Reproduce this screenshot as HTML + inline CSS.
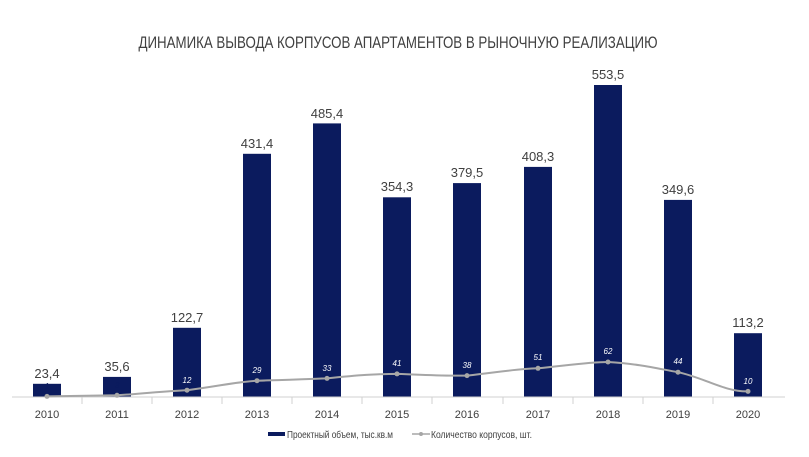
<!DOCTYPE html>
<html><head><meta charset="utf-8"><style>
body{margin:0;background:#fff;}
svg{display:block;font-family:"Liberation Sans",sans-serif;}
</style></head><body>
<svg width="809" height="457" viewBox="0 0 809 457">
<text x="398" y="48" text-anchor="middle" font-size="17" fill="#404040" textLength="519" lengthAdjust="spacingAndGlyphs">ДИНАМИКА ВЫВОДА КОРПУСОВ АПАРТАМЕНТОВ В РЫНОЧНУЮ РЕАЛИЗАЦИЮ</text>
<g fill="#0b1b5e">
<rect x="33" y="383.8" width="28" height="13.2"/>
<rect x="103" y="376.9" width="28" height="20.1"/>
<rect x="173" y="327.8" width="28" height="69.2"/>
<rect x="243" y="153.8" width="28" height="243.2"/>
<rect x="313" y="123.4" width="28" height="273.6"/>
<rect x="383" y="197.3" width="28" height="199.7"/>
<rect x="453" y="183.1" width="28" height="213.9"/>
<rect x="524" y="166.9" width="28" height="230.1"/>
<rect x="594" y="85" width="28" height="312"/>
<rect x="664" y="199.9" width="28" height="197.1"/>
<rect x="734" y="333.2" width="28" height="63.8"/>
</g>
<line x1="12" y1="397" x2="785" y2="397" stroke="#d0d0d0"/>
<g stroke="#d0d0d0">
<line x1="82" y1="397" x2="82" y2="404"/><line x1="152" y1="397" x2="152" y2="404"/><line x1="222" y1="397" x2="222" y2="404"/><line x1="292" y1="397" x2="292" y2="404"/><line x1="362" y1="397" x2="362" y2="404"/><line x1="432" y1="397" x2="432" y2="404"/><line x1="503" y1="397" x2="503" y2="404"/><line x1="573" y1="397" x2="573" y2="404"/><line x1="643" y1="397" x2="643" y2="404"/><line x1="713" y1="397" x2="713" y2="404"/>
</g>
<g font-size="13" fill="#404040" text-anchor="middle">
<text x="47" y="378">23,4</text><text x="117" y="371">35,6</text><text x="187" y="322">122,7</text><text x="257" y="148">431,4</text><text x="327" y="118">485,4</text><text x="397" y="191">354,3</text><text x="467" y="177">379,5</text><text x="538" y="161">408,3</text><text x="608" y="79">553,5</text><text x="678" y="194">349,6</text><text x="748" y="327">113,2</text>
</g>
<path d="M47,396.4 C80,396 100,395.5 117,395.3 C150,393 165,391 187,390.2 C220,386 235,382 257,380.7 C290,380 305,379 327,378.4 C360,375 375,374 397,373.9 C430,375 445,376 467,375.6 C500,372 515,369 538,368.3 C570,365 590,362 608,362 C640,364 655,368 678,372.2 C705,378 725,392 748,391.4" fill="none" stroke="#a6a6a6" stroke-width="2"/>
<g fill="#a6a6a6">
<circle cx="47" cy="396.4" r="2.5"/><circle cx="117" cy="395.3" r="2.5"/><circle cx="187" cy="390.2" r="2.5"/><circle cx="257" cy="380.7" r="2.5"/><circle cx="327" cy="378.4" r="2.5"/><circle cx="397" cy="373.9" r="2.5"/><circle cx="467" cy="375.6" r="2.5"/><circle cx="538" cy="368.3" r="2.5"/><circle cx="608" cy="362" r="2.5"/><circle cx="678" cy="372.2" r="2.5"/><circle cx="748" cy="391.4" r="2.5"/>
</g>
<g font-size="8" fill="#ffffff" text-anchor="middle" font-style="italic">
<text x="47" y="389" fill="#0b1b5e">1</text><text x="117" y="388" fill="#0b1b5e">3</text><text x="187" y="383">12</text><text x="257" y="373">29</text><text x="327" y="371">33</text><text x="397" y="366">41</text><text x="467" y="368">38</text><text x="538" y="360">51</text><text x="608" y="354">62</text><text x="678" y="364">44</text><text x="748" y="384">10</text>
</g>
<g font-size="11" fill="#404040" text-anchor="middle">
<text x="47" y="418">2010</text><text x="117" y="418">2011</text><text x="187" y="418">2012</text><text x="257" y="418">2013</text><text x="327" y="418">2014</text><text x="397" y="418">2015</text><text x="467" y="418">2016</text><text x="538" y="418">2017</text><text x="608" y="418">2018</text><text x="678" y="418">2019</text><text x="748" y="418">2020</text>
</g>
<rect x="268" y="432" width="17" height="4" fill="#0b1b5e"/>
<text x="287" y="438" font-size="10" fill="#404040" textLength="106" lengthAdjust="spacingAndGlyphs">Проектный объем, тыс.кв.м</text>
<line x1="412" y1="434" x2="430" y2="434" stroke="#a6a6a6" stroke-width="1.5"/>
<circle cx="421" cy="434" r="2" fill="#a6a6a6"/>
<text x="431" y="438" font-size="10" fill="#404040" textLength="101" lengthAdjust="spacingAndGlyphs">Количество корпусов, шт.</text>
</svg>
</body></html>
